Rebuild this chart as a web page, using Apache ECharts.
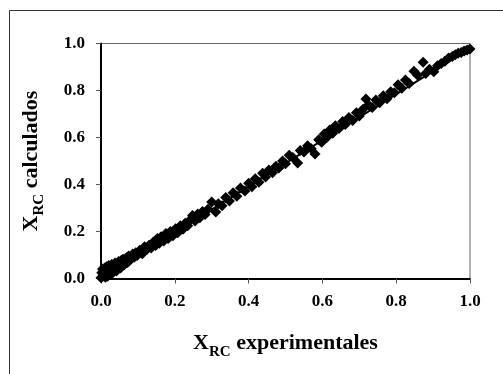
<!DOCTYPE html>
<html>
<head>
<meta charset="utf-8">
<script src="https://cdn.jsdelivr.net/npm/echarts@6/dist/echarts.min.js"></script>
<style>
  html, body { margin: 0; padding: 0; background: #fff; }
  #chart { width: 503px; height: 374px; }
</style>
</head>
<body>
<div id="chart"></div>
<script>
// Experimental vs. calculated conversion values
const xExp = [
  0.000,0.002,0.004,0.005,0.006,0.008,0.010,0.011,0.012,0.014,0.015,0.017,0.018,0.020,0.021,0.023,0.025,0.027,0.029,0.030,
  0.032,0.034,0.036,0.038,0.040,0.042,0.044,0.046,0.048,0.050,0.053,0.055,0.058,0.060,0.063,0.066,0.069,0.072,0.075,0.078,
  0.082,0.086,0.090,0.094,0.098,
  0.105,0.112,0.118,0.125,0.130,0.136,0.142,0.148,0.153,0.158,0.163,0.170,0.176,0.182,0.188,0.195,0.202,0.208,0.215,0.222,
  0.228,0.235,0.242,0.248,0.255,0.262,0.268,0.275,0.282,0.290,
  0.300,0.311,0.318,0.328,0.338,0.348,0.358,0.368,0.378,0.390,0.400,0.409,0.418,0.428,0.438,0.446,0.455,0.465,0.474,0.482,
  0.492,0.500,
  0.510,0.520,0.533,0.540,0.550,0.560,0.570,0.580,0.590,0.598,0.605,0.612,0.620,0.628,0.635,0.645,0.655,0.662,0.672,0.682,
  0.692,0.700,
  0.710,0.718,0.725,0.735,0.745,0.755,0.765,0.775,0.785,0.795,0.805,0.815,0.825,0.835,0.848,0.858,0.873,0.880,0.890,0.902,
  0.912,0.922,0.932,0.942,0.952,0.960,0.968,0.976,0.984,0.992,1.000
];
const yCalc = [
  0.003,0.025,0.040,0.010,0.030,0.015,0.045,0.022,0.005,0.032,0.050,0.025,0.010,0.040,0.055,0.030,0.018,0.048,0.060,0.034,
  0.024,0.055,0.040,0.066,0.045,0.032,0.064,0.050,0.072,0.055,0.045,0.078,0.062,0.082,0.058,0.080,0.088,0.068,0.096,0.078,
  0.085,0.104,0.090,0.110,0.098,
  0.120,0.105,0.135,0.125,0.142,0.130,0.155,0.140,0.170,0.150,0.178,0.160,0.192,0.170,0.200,0.182,0.212,0.195,0.225,0.210,
  0.235,0.225,0.250,0.268,0.245,0.275,0.258,0.285,0.272,0.295,
  0.326,0.283,0.318,0.310,0.345,0.330,0.365,0.350,0.385,0.372,0.405,0.390,0.425,0.410,0.448,0.432,0.462,0.450,0.478,0.470,
  0.500,0.488,
  0.525,0.515,0.491,0.545,0.538,0.565,0.552,0.530,0.590,0.580,0.615,0.600,0.632,0.618,0.650,0.638,0.668,0.655,0.685,0.672,
  0.705,0.692,
  0.720,0.764,0.738,0.728,0.760,0.748,0.778,0.765,0.795,0.790,0.825,0.810,0.845,0.830,0.882,0.865,0.920,0.872,0.890,0.880,
  0.905,0.915,0.925,0.938,0.945,0.952,0.958,0.962,0.968,0.972,0.977
];
// Fitted line endpoints
const fitX = [0.0, 1.0];
const fitY = [0.0, 0.98];
// Axis ticks
const ticks = [0.0, 0.2, 0.4, 0.6, 0.8, 1.0];

const points = xExp.map((x, i) => [x, yCalc[i]]);
const fitLine = fitX.map((x, i) => [x, fitY[i]]);

const FONT = '"Liberation Serif", "Times New Roman", serif';

const chart = echarts.init(document.getElementById('chart'), null, { renderer: 'canvas' });

const axisCommon = {
  type: 'value',
  min: ticks[0],
  max: ticks[ticks.length - 1],
  interval: 0.2,
  axisLine: { show: true, onZero: false, lineStyle: { color: '#000', width: 2 } },
  axisTick: { show: true, inside: false, length: 5, lineStyle: { color: '#555', width: 1 } },
  splitLine: { show: false },
  axisLabel: {
    color: '#000', fontFamily: FONT, fontWeight: 'bold', fontSize: 17,
    formatter: v => v.toFixed(1)
  },
  nameLocation: 'middle',
  nameTextStyle: {
    color: '#000',
    rich: {
      m: { fontFamily: FONT, fontWeight: 'bold', fontSize: 22, color: '#000', verticalAlign: 'bottom' },
      s: { fontFamily: FONT, fontWeight: 'bold', fontSize: 15, color: '#000', verticalAlign: 'bottom', padding: [0, 0, -5, 0] }
    }
  }
};

chart.setOption({
  animation: false,
  backgroundColor: '#fff',
  grid: {
    left: 101, top: 43.5, right: 33, bottom: 95.5,
    show: true, borderColor: '#666', borderWidth: 1, backgroundColor: 'transparent'
  },
  xAxis: Object.assign({}, axisCommon, {
    name: '{m|X}{s|RC}{m| experimentales}',
    nameGap: 54,
    axisLabel: Object.assign({}, axisCommon.axisLabel, { margin: 15 })
  }),
  yAxis: Object.assign({}, axisCommon, {
    name: '{m|X}{s|RC}{m| calculados}',
    nameGap: 59,
    nameRotate: 90,
    axisLabel: Object.assign({}, axisCommon.axisLabel, { margin: 16 })
  }),
  graphic: [{
    type: 'rect',
    shape: { x: 9.5, y: 10.5, width: 600, height: 600 },
    style: { fill: 'none', stroke: '#333', lineWidth: 1 },
    silent: true
  }],
  series: [
    {
      type: 'scatter',
      data: points,
      symbol: 'diamond',
      symbolSize: 11,
      itemStyle: { color: '#000', opacity: 1 },
      z: 3
    },
    {
      type: 'line',
      data: fitLine,
      showSymbol: false,
      symbol: 'none',
      lineStyle: { color: '#000', width: 2 },
      z: 4
    }
  ]
});
</script>
</body>
</html>
